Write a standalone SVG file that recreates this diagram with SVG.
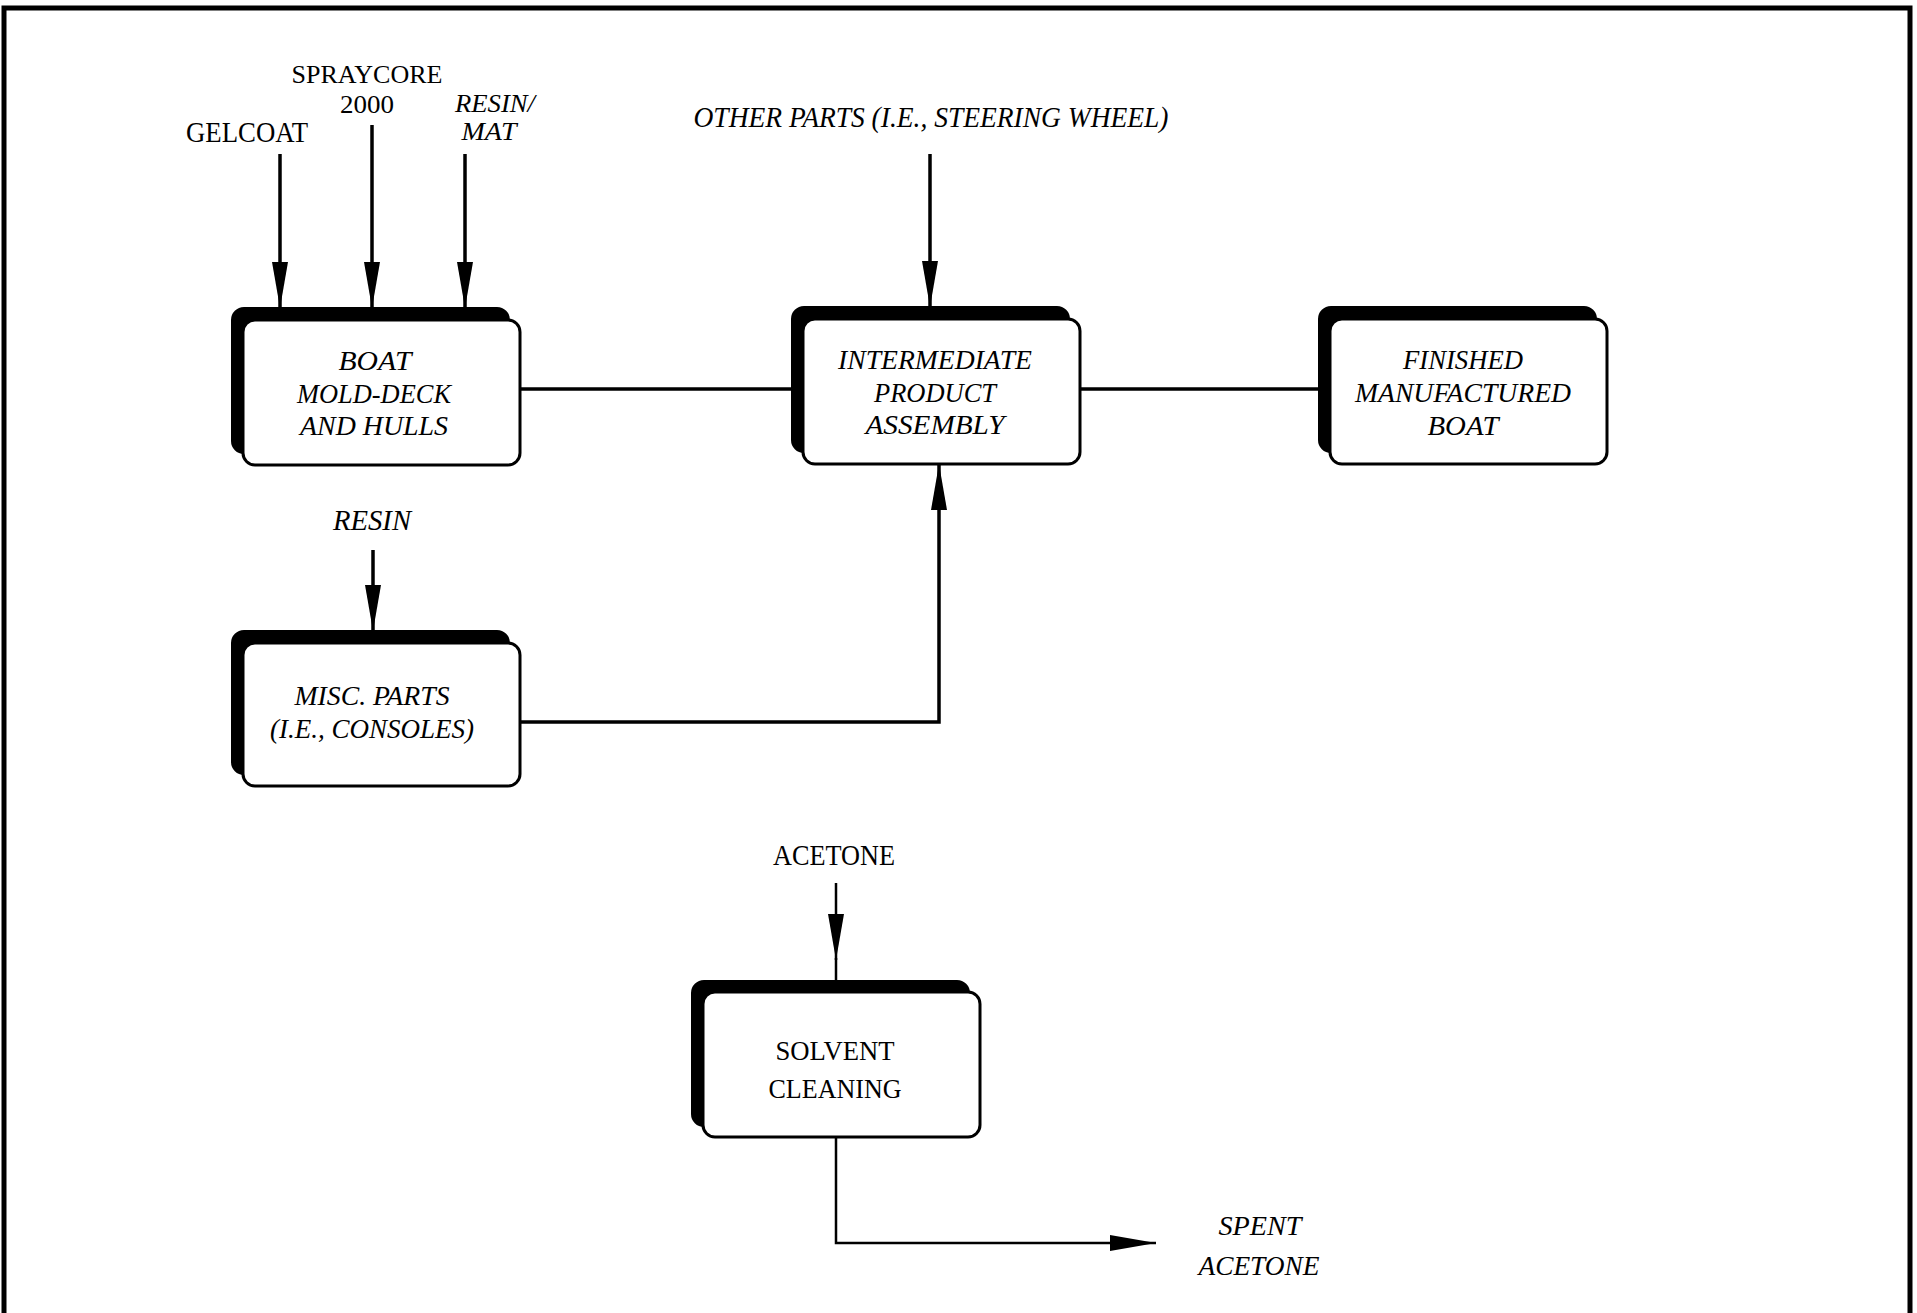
<svg xmlns="http://www.w3.org/2000/svg" width="1917" height="1313" viewBox="0 0 1917 1313">
<style>
text{font-family:"Liberation Serif","Times New Roman",serif;font-size:30px;fill:#000;text-anchor:middle}
.it{font-style:italic}
.st{font-size:26px}
.bx{font-size:28px}
.sh{fill:#000;stroke:#000;stroke-width:2}
.fr{fill:#fff;stroke:#000;stroke-width:3}
.ln{fill:none;stroke:#000;stroke-width:3.5}
.thin{fill:none;stroke:#000;stroke-width:2.5}
.border{fill:none;stroke:#000;stroke-width:5}
</style>
<defs>
<marker id="ah" markerUnits="userSpaceOnUse" viewBox="0 0 46 16" refX="46" refY="8" markerWidth="46" markerHeight="16" orient="auto">
<path d="M0,0 L46,8 L0,16 z" fill="#000"/>
</marker>
</defs>
<rect width="1917" height="1313" fill="#fff"/>
<g id="frame">
<path class="border" d="M4,1313 V8 H1910 V1313"/>
</g>
<g id="connectors">
<line class="ln" x1="519" y1="389" x2="803" y2="389"/>
<line class="ln" x1="1080" y1="389" x2="1330" y2="389"/>
<line class="ln" x1="280" y1="154" x2="280" y2="308" marker-end="url(#ah)"/>
<line class="ln" x1="372" y1="125" x2="372" y2="308" marker-end="url(#ah)"/>
<line class="ln" x1="465" y1="154" x2="465" y2="308" marker-end="url(#ah)"/>
<line class="ln" x1="930" y1="154" x2="930" y2="307" marker-end="url(#ah)"/>
<line class="ln" x1="373" y1="550" x2="373" y2="631" marker-end="url(#ah)"/>
<path class="ln" d="M519,722 H939 V464" marker-end="url(#ah)"/>
<line class="thin" x1="836" y1="883" x2="836" y2="960" marker-end="url(#ah)"/>
<line class="thin" x1="836" y1="958" x2="836" y2="981"/>
<path class="thin" d="M836,1137 V1243 H1156" marker-end="url(#ah)"/>
</g>
<g id="labels">
<text x="247" y="142" textLength="122" lengthAdjust="spacingAndGlyphs">GELCOAT</text>
<text class="st" x="367" y="83" textLength="151" lengthAdjust="spacingAndGlyphs">SPRAYCORE</text>
<text class="st" x="367" y="113" textLength="54" lengthAdjust="spacingAndGlyphs">2000</text>
<text class="it st" x="495" y="112" textLength="80" lengthAdjust="spacingAndGlyphs">RESIN/</text>
<text class="it st" x="489" y="140" textLength="55" lengthAdjust="spacingAndGlyphs">MAT</text>
<text class="it" x="931" y="127" textLength="475" lengthAdjust="spacingAndGlyphs">OTHER PARTS (I.E., STEERING WHEEL)</text>
<text class="it" x="372" y="530" textLength="78" lengthAdjust="spacingAndGlyphs">RESIN</text>
<text x="834" y="865" textLength="122" lengthAdjust="spacingAndGlyphs">ACETONE</text>
<text class="it bx" x="1260" y="1235" textLength="83" lengthAdjust="spacingAndGlyphs">SPENT</text>
<text class="it bx" x="1259" y="1275" textLength="121" lengthAdjust="spacingAndGlyphs">ACETONE</text>
</g>
<g id="node-boat-mold">
<rect class="sh" x="232" y="308" width="277" height="145" rx="12"/>
<rect class="fr" x="243" y="320" width="277" height="145" rx="12"/>
<text class="it bx" x="375" y="370" textLength="73" lengthAdjust="spacingAndGlyphs">BOAT</text>
<text class="it bx" x="374" y="403" textLength="154" lengthAdjust="spacingAndGlyphs">MOLD-DECK</text>
<text class="it bx" x="374" y="435" textLength="148" lengthAdjust="spacingAndGlyphs">AND HULLS</text>
</g>
<g id="node-intermediate">
<rect class="sh" x="792" y="307" width="277" height="145" rx="12"/>
<rect class="fr" x="803" y="319" width="277" height="145" rx="12"/>
<text class="it bx" x="935" y="369" textLength="194" lengthAdjust="spacingAndGlyphs">INTERMEDIATE</text>
<text class="it bx" x="935" y="402" textLength="122" lengthAdjust="spacingAndGlyphs">PRODUCT</text>
<text class="it bx" x="935" y="434" textLength="139" lengthAdjust="spacingAndGlyphs">ASSEMBLY</text>
</g>
<g id="node-finished">
<rect class="sh" x="1319" y="307" width="277" height="145" rx="12"/>
<rect class="fr" x="1330" y="319" width="277" height="145" rx="12"/>
<text class="it bx" x="1463" y="369" textLength="120" lengthAdjust="spacingAndGlyphs">FINISHED</text>
<text class="it bx" x="1463" y="402" textLength="216" lengthAdjust="spacingAndGlyphs">MANUFACTURED</text>
<text class="it bx" x="1463" y="435" textLength="71" lengthAdjust="spacingAndGlyphs">BOAT</text>
</g>
<g id="node-misc">
<rect class="sh" x="232" y="631" width="277" height="143" rx="12"/>
<rect class="fr" x="243" y="643" width="277" height="143" rx="12"/>
<text class="it bx" x="372" y="705" textLength="155" lengthAdjust="spacingAndGlyphs">MISC. PARTS</text>
<text class="it bx" x="372" y="738" textLength="204" lengthAdjust="spacingAndGlyphs">(I.E., CONSOLES)</text>
</g>
<g id="node-solvent">
<rect class="sh" x="692" y="981" width="277" height="145" rx="12"/>
<rect class="fr" x="703" y="992" width="277" height="145" rx="12"/>
<text class="bx" x="835" y="1060" textLength="119" lengthAdjust="spacingAndGlyphs">SOLVENT</text>
<text class="bx" x="835" y="1098" textLength="133" lengthAdjust="spacingAndGlyphs">CLEANING</text>
</g>
</svg>
